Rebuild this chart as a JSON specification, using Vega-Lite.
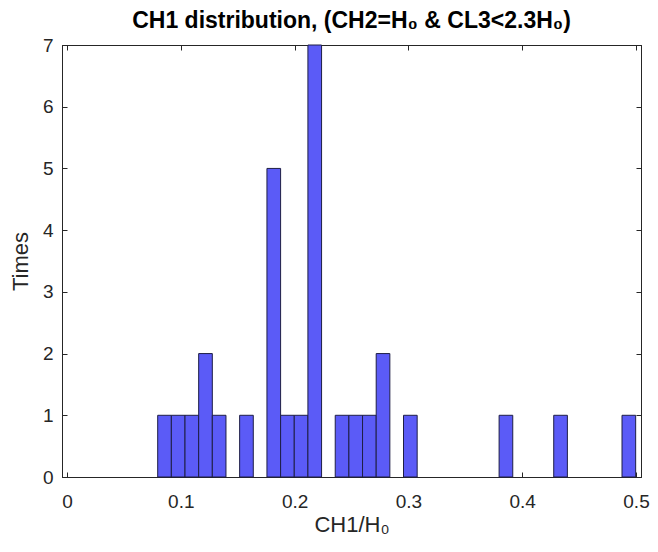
{
  "$schema": "https://vega.github.io/schema/vega-lite/v6.json",
  "width": 579,
  "height": 432,
  "autosize": "none",
  "padding": {"left": 62, "top": 45, "right": 17, "bottom": 75},
  "background": "white",
  "title": {
    "text": "CH1 distribution, (CH2=H₀ & CL3<2.3H₀)",
    "font": "Liberation Sans",
    "fontSize": 23,
    "fontWeight": "bold",
    "color": "#000000",
    "offset": 3
  },
  "config": {
    "view": {"stroke": "#262626", "strokeWidth": 1},
    "axis": {
      "labelFont": "Liberation Sans",
      "titleFont": "Liberation Sans",
      "labelFontSize": 19,
      "titleFontSize": 22,
      "titleFontWeight": "normal",
      "labelColor": "#262626",
      "titleColor": "#262626",
      "domainColor": "#262626",
      "tickColor": "#262626",
      "grid": false
    }
  },
  "data": {
    "values": [
      {"bin_start": 0.0797, "bin_end": 0.0917, "count": 1},
      {"bin_start": 0.0917, "bin_end": 0.1037, "count": 1},
      {"bin_start": 0.1037, "bin_end": 0.1157, "count": 1},
      {"bin_start": 0.1157, "bin_end": 0.1277, "count": 2},
      {"bin_start": 0.1277, "bin_end": 0.1397, "count": 1},
      {"bin_start": 0.1517, "bin_end": 0.1637, "count": 1},
      {"bin_start": 0.1757, "bin_end": 0.1877, "count": 5},
      {"bin_start": 0.1877, "bin_end": 0.1997, "count": 1},
      {"bin_start": 0.1997, "bin_end": 0.2117, "count": 1},
      {"bin_start": 0.2117, "bin_end": 0.2237, "count": 7},
      {"bin_start": 0.2357, "bin_end": 0.2477, "count": 1},
      {"bin_start": 0.2477, "bin_end": 0.2597, "count": 1},
      {"bin_start": 0.2597, "bin_end": 0.2717, "count": 1},
      {"bin_start": 0.2717, "bin_end": 0.2837, "count": 2},
      {"bin_start": 0.2957, "bin_end": 0.3077, "count": 1},
      {"bin_start": 0.3797, "bin_end": 0.3917, "count": 1},
      {"bin_start": 0.4277, "bin_end": 0.4397, "count": 1},
      {"bin_start": 0.4877, "bin_end": 0.4997, "count": 1}
    ]
  },
  "layer": [
    {
      "mark": {"type": "bar", "fill": "#5b5bf7", "stroke": "#1e1e45", "strokeWidth": 1, "orient": "vertical"},
      "encoding": {
        "x": {
          "field": "bin_start", "type": "quantitative",
          "scale": {"domain": [0, 0.5], "nice": false, "zero": false},
          "axis": {"title": "CH1/H₀", "values": [0, 0.1, 0.2, 0.3, 0.4, 0.5], "format": "~g", "tickSize": -5, "labelPadding": 20, "titlePadding": 3, "labelFlush": false}
        },
        "x2": {"field": "bin_end"},
        "y": {
          "field": "count", "type": "quantitative",
          "scale": {"domain": [0, 7], "nice": false},
          "axis": {"title": "Times", "values": [0, 1, 2, 3, 4, 5, 6, 7], "tickSize": -5, "labelPadding": 14, "titlePadding": 10}
        },
        "y2": {"datum": 0}
      }
    },
    {
      "mark": {"type": "bar", "opacity": 0, "orient": "vertical"},
      "encoding": {
        "x": {
          "field": "bin_start", "type": "quantitative",
          "scale": {"domain": [0, 0.5], "nice": false, "zero": false},
          "axis": {"orient": "top", "title": null, "labels": false, "values": [0, 0.1, 0.2, 0.3, 0.4, 0.5], "tickSize": -5}
        },
        "x2": {"field": "bin_end"},
        "y": {
          "field": "count", "type": "quantitative",
          "scale": {"domain": [0, 7], "nice": false},
          "axis": {"orient": "right", "title": null, "labels": false, "values": [0, 1, 2, 3, 4, 5, 6, 7], "tickSize": -5}
        },
        "y2": {"datum": 0}
      }
    }
  ],
  "resolve": {"axis": {"x": "independent", "y": "independent"}}
}
